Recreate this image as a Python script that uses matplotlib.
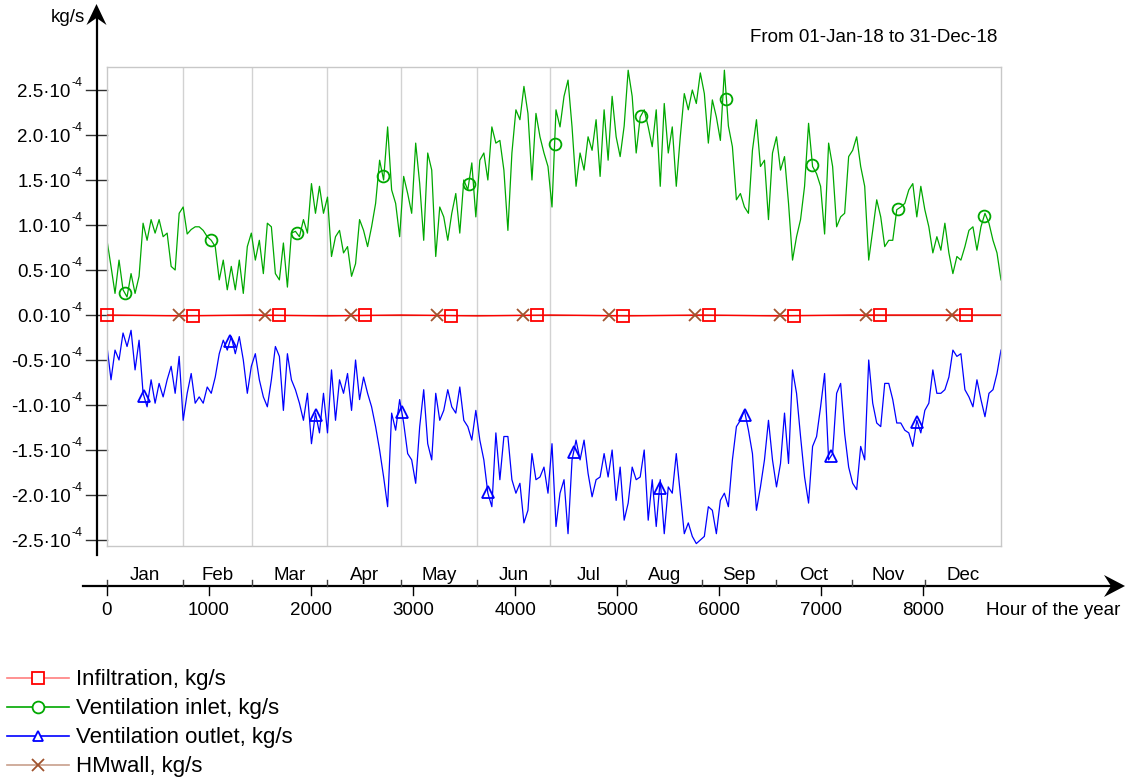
import numpy as np
import matplotlib
matplotlib.use("Agg")
import matplotlib.pyplot as plt
from matplotlib.lines import Line2D
from matplotlib.patches import Polygon
from matplotlib.transforms import blended_transform_factory, offset_copy

plt.rcParams['font.family'] = ['Liberation Sans', 'DejaVu Sans']

# ---------------- data (mass flows in 1e-4 kg/s) ----------------
month_names = ['Jan', 'Feb', 'Mar', 'Apr', 'May', 'Jun',
               'Jul', 'Aug', 'Sep', 'Oct', 'Nov', 'Dec']
month_edges = [0, 744, 1416, 2160, 2880, 3624, 4344,
               5088, 5832, 6552, 7296, 8016, 8760]
hour_ticks = [0, 1000, 2000, 3000, 4000, 5000, 6000, 7000, 8000]
ytick_values = [2.5, 2.0, 1.5, 1.0, 0.5, 0.0, -0.5, -1.0, -1.5, -2.0, -2.5]

# Ventilation inlet, sampled every ~39 h over the year
inlet = [
    0.83, 0.54, 0.24, 0.61, 0.28, 0.20, 0.46, 0.24, 0.43, 1.02,
    0.83, 1.06, 0.91, 1.06, 0.87, 0.91, 0.54, 0.50, 1.13, 1.20,
    0.90, 0.95, 0.98, 0.98, 0.94, 0.87, 0.83, 0.76, 0.39, 0.61,
    0.28, 0.54, 0.28, 0.61, 0.24, 0.76, 0.91, 0.61, 0.83, 0.46,
    1.02, 0.98, 0.46, 0.39, 0.80, 0.31, 0.91, 0.93, 0.87, 1.06,
    0.91, 1.46, 1.13, 1.43, 1.13, 1.31, 0.65, 0.87, 0.94, 0.69,
    0.76, 0.43, 0.57, 1.06, 0.94, 0.76, 0.98, 1.24, 1.72, 1.50,
    2.09, 1.39, 1.24, 0.87, 1.54, 1.35, 1.13, 1.91, 1.46, 0.83,
    1.80, 1.61, 0.65, 1.20, 1.09, 0.83, 1.13, 1.35, 0.91, 1.50,
    1.39, 1.69, 1.09, 1.72, 1.80, 1.50, 2.09, 1.91, 1.94, 1.61,
    0.94, 1.80, 2.28, 2.17, 2.54, 2.24, 1.50, 2.24, 1.98, 1.80,
    1.65, 1.20, 2.28, 2.09, 2.43, 2.61, 2.09, 1.43, 1.80, 1.61,
    1.98, 1.83, 2.17, 1.54, 2.28, 1.72, 2.43, 1.98, 1.76, 2.10,
    2.72, 2.43, 1.80, 2.20, 2.28, 2.09, 1.87, 2.28, 1.43, 2.35,
    1.80, 2.09, 1.43, 1.98, 2.46, 2.28, 2.50, 2.35, 2.69, 2.46,
    1.91, 2.39, 2.20, 1.94, 2.72, 2.10, 1.87, 1.28, 1.35, 1.20,
    1.13, 1.83, 2.17, 1.65, 1.72, 1.06, 1.80, 1.98, 1.61, 1.76,
    1.24, 0.61, 0.87, 1.06, 1.43, 2.13, 1.65, 1.57, 1.43, 0.90,
    1.91, 1.65, 0.98, 1.09, 1.13, 1.76, 1.83, 1.98, 1.65, 1.43,
    0.61, 0.94, 1.28, 1.09, 0.76, 0.83, 0.83, 1.17, 1.20, 1.24,
    1.39, 1.46, 1.09, 1.43, 1.17, 0.98, 0.69, 0.87, 0.72, 1.02,
    0.69, 0.46, 0.65, 0.61, 0.76, 0.94, 0.98, 0.72, 0.98, 1.13,
    1.02, 0.83, 0.69, 0.39,
]

# Ventilation outlet, same sampling
outlet = [
    -0.35, -0.72, -0.39, -0.50, -0.20, -0.35, -0.17, -0.61, -0.28, -0.87,
    -1.02, -0.72, -0.98, -0.76, -0.91, -0.72, -0.57, -0.87, -0.46, -1.17,
    -0.87, -0.65, -0.98, -0.91, -0.98, -0.80, -0.87, -0.69, -0.43, -0.28,
    -0.39, -0.24, -0.43, -0.24, -0.50, -0.87, -0.57, -0.43, -0.72, -0.91,
    -1.02, -0.72, -0.35, -0.46, -1.06, -0.43, -0.72, -0.83, -0.98, -1.17,
    -0.87, -1.43, -1.09, -1.31, -0.87, -1.31, -0.61, -1.17, -0.72, -0.87,
    -0.65, -1.06, -0.50, -0.94, -0.69, -0.87, -1.02, -1.24, -1.50, -1.80,
    -2.13, -1.09, -1.28, -0.94, -1.20, -1.54, -1.61, -1.87, -1.24, -0.83,
    -1.43, -1.61, -0.87, -1.17, -1.06, -0.83, -1.02, -1.09, -0.80, -1.17,
    -1.24, -1.39, -1.06, -1.39, -1.61, -1.98, -2.13, -1.31, -1.83, -1.35,
    -1.35, -1.83, -1.98, -1.87, -2.31, -2.17, -1.54, -1.83, -1.80, -1.69,
    -1.98, -1.43, -2.35, -1.98, -1.83, -2.43, -1.61, -1.39, -1.61, -1.39,
    -1.76, -2.02, -1.83, -1.80, -1.54, -1.80, -1.50, -2.06, -1.69, -2.28,
    -2.09, -1.69, -1.83, -1.80, -1.50, -2.28, -1.83, -2.35, -1.83, -2.43,
    -1.91, -1.98, -1.54, -1.98, -2.43, -2.31, -2.46, -2.54, -2.50, -2.46,
    -2.13, -2.17, -2.43, -2.06, -1.98, -2.13, -1.61, -1.24, -1.17, -1.06,
    -1.28, -1.54, -2.17, -1.91, -1.61, -1.17, -1.61, -1.91, -1.65, -1.09,
    -1.65, -0.61, -0.87, -1.35, -1.80, -2.09, -1.46, -1.35, -1.02, -0.65,
    -1.61, -1.54, -0.87, -0.76, -1.32, -1.69, -1.87, -1.94, -1.46, -1.61,
    -0.50, -0.98, -1.20, -1.24, -0.76, -0.76, -0.94, -1.20, -1.20, -1.28,
    -1.31, -1.46, -1.17, -1.31, -1.06, -0.98, -0.61, -0.87, -0.87, -0.83,
    -0.69, -0.39, -0.46, -0.43, -0.83, -0.91, -1.02, -0.72, -0.94, -1.13,
    -0.87, -0.83, -0.65, -0.39,
]

# Infiltration and moisture-buffering wall flows stay close to zero
infiltration = [0.00, -0.01, 0.00, -0.01, 0.00, -0.01, 0.00,
                -0.01, 0.00, -0.01, 0.00, 0.00, 0.00]
hmwall = [0.00, 0.00, 0.00, 0.00, 0.00, 0.00, 0.00,
          0.00, 0.00, 0.00, 0.00, 0.00, 0.00]

SCALE = 1e-4
hours = np.linspace(0, 8760, len(inlet))
inlet_kg = np.array(inlet) * SCALE
outlet_kg = np.array(outlet) * SCALE
infil_kg = np.array(infiltration) * SCALE
hmwall_kg = np.array(hmwall) * SCALE

# ---------------- styling ----------------
C_RED = '#FF0000'
C_GREEN = '#00A800'
C_BLUE = '#0000FF'
C_BROWN = '#A0522D'
FS = 13.5
FS_SUP = 9
FS_LEG = 16

W, H = 1134, 780
fig = plt.figure(figsize=(W / 100, H / 100), dpi=100)


def fx(px):
    return px / W


def fy(py):
    return 1 - py / H


L, R, T, B = 107, 1001, 67, 546
ax = fig.add_axes([fx(L), fy(B), fx(R) - fx(L), fy(T) - fy(B)])
ax.set_xlim(0, 8760)
ax.set_ylim(-2.5667e-4, 2.7556e-4)
ax.set_xticks([])
ax.set_yticks([])
for s in ax.spines.values():
    s.set_color('#C8C8C8')
    s.set_linewidth(1.0)

# month separators (first half of the year)
for h in month_edges[1:7]:
    ax.axvline(h, color='#D2D2D2', lw=1.0, zorder=1)

lw = 0.9
ax.plot(hours, inlet_kg, color=C_GREEN, lw=lw, zorder=2)
ax.plot(hours, outlet_kg, color=C_BLUE, lw=lw, zorder=2)
ax.plot(month_edges, hmwall_kg, color=C_BROWN, lw=lw, zorder=3)
ax.plot(month_edges, infil_kg, color=C_RED, lw=1.0, zorder=4)

# series markers at regular hour intervals along each curve
step = 842
m_sq = np.arange(0, 8760, step)
m_x = np.arange(705, 8760, step)
m_o = np.arange(176, 8760, step)
m_t = np.arange(362, 8760, step)
mk = dict(ls='none', mfc='none', mew=1.3, zorder=5, clip_on=False)
ax.plot(m_o, np.interp(m_o, hours, inlet_kg), marker='o', ms=8.5, mec=C_GREEN, **mk)
ax.plot(m_t, np.interp(m_t, hours, outlet_kg), marker='^', ms=8.5, mec=C_BLUE, **mk)
ax.plot(m_x, np.interp(m_x, month_edges, hmwall_kg), marker='x', ms=9, mec=C_BROWN, **mk)
ax.plot(m_sq, np.interp(m_sq, month_edges, infil_kg), marker='s', ms=9, mec=C_RED, **mk)

# ---------------- y axis ----------------
YX = 96.5
fig.add_artist(Line2D([fx(YX), fx(YX)], [fy(18), fy(555)], color='black', lw=1.6))
fig.add_artist(Polygon([[fx(YX), fy(4)], [fx(YX - 10), fy(25)], [fx(YX), fy(18)],
                        [fx(YX + 10), fy(25)]], closed=True, color='black', lw=0))
ytrans = blended_transform_factory(ax.transAxes, ax.transData)
for v in ytick_values:
    ax.plot([(86 - L) / (R - L), 0], [v * SCALE] * 2, color='#303030', lw=1.0,
            transform=ytrans, clip_on=False)
    # mantissa and power of ten written as plain text with a raised exponent
    ax.text((70.5 - L) / (R - L), v * SCALE, f'{v:.1f}·10', ha='right',
            va='baseline', fontsize=FS,
            transform=offset_copy(ytrans, y=-7, units='dots'))
    ax.text((71 - L) / (R - L), v * SCALE, '-4', ha='left', va='baseline',
            fontsize=FS_SUP, transform=offset_copy(ytrans, y=4, units='dots'))
fig.text(fx(85), fy(22), 'kg/s', ha='right', va='baseline', fontsize=FS)

# ---------------- x axis ----------------
XY = 586
fig.add_artist(Line2D([fx(83), fx(1112)], [fy(XY), fy(XY)], color='black', lw=1.6))
fig.add_artist(Polygon([[fx(1125), fy(XY)], [fx(1104), fy(XY - 11)], [fx(1111), fy(XY)],
                        [fx(1104), fy(XY + 11)]], closed=True, color='black', lw=0))
xtrans = blended_transform_factory(ax.transData, fig.transFigure)
for h in month_edges[:-1]:
    fig.add_artist(Line2D([h, h], [fy(580), fy(XY)], color='#404040', lw=1.0,
                          transform=xtrans))
for i, name in enumerate(month_names):
    mid = 0.5 * (month_edges[i] + month_edges[i + 1])
    fig.text(mid, fy(580), name, ha='center', va='baseline', fontsize=FS,
             transform=xtrans)
for h in hour_ticks:
    fig.add_artist(Line2D([h, h], [fy(XY), fy(595)], color='black', lw=1.0,
                          transform=xtrans))
    fig.text(h, fy(615), f'{h}', ha='center', va='baseline', fontsize=FS,
             transform=xtrans)
fig.text(fx(986), fy(615), 'Hour of the year', ha='left', va='baseline', fontsize=FS)

fig.text(fx(997), fy(41.5), 'From 01-Jan-18 to 31-Dec-18', ha='right',
         va='baseline', fontsize=FS)

# ---------------- legend ----------------
legend_items = [
    ('Infiltration, kg/s', '#FF7F7F', C_RED, 's', 9),
    ('Ventilation inlet, kg/s', C_GREEN, C_GREEN, 'o', 8.5),
    ('Ventilation outlet, kg/s', C_BLUE, C_BLUE, '^', 7),
    ('HMwall, kg/s', '#C8A08C', C_BROWN, 'x', 9),
]
for k, (text, lc, mc, m, ms) in enumerate(legend_items):
    y = 677.5 + 29 * k
    fig.add_artist(Line2D([fx(7), fx(69)], [fy(y), fy(y)], color=lc, lw=1.2))
    fig.add_artist(Line2D([fx(38)], [fy(y)], ls='none', marker=m, ms=ms,
                          mfc='white' if m != 'x' else 'none', mec=mc, mew=1.3))
    fig.text(fx(76), fy(y + 7.5), text, ha='left', va='baseline', fontsize=FS_LEG)

fig.savefig('out.png', dpi=100)
